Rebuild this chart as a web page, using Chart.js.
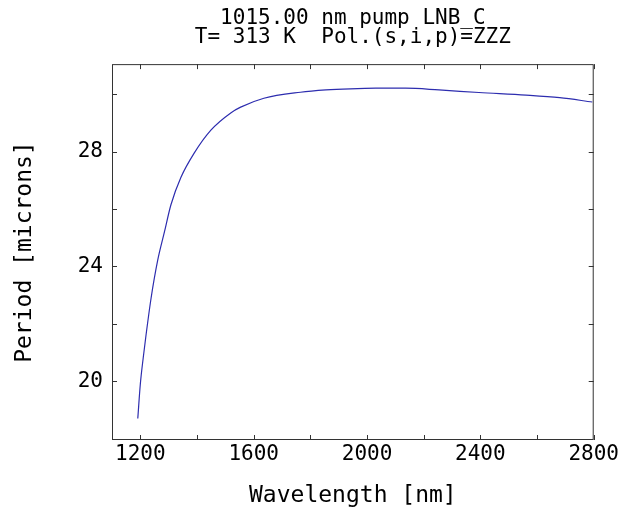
<!DOCTYPE html>
<html>
<head>
<meta charset="utf-8">
<script src="https://cdn.jsdelivr.net/npm/chart.js@4/dist/chart.umd.min.js"></script>
<style>
  html, body { margin: 0; padding: 0; background: #fff; }
  #wrap { width: 621px; height: 510px; }
</style>
</head>
<body>
<div id="wrap"><canvas id="chart"></canvas></div>
<script>
// signal wavelength (nm) and poling period (microns)
const wavelengths = [1191, 1200, 1210, 1220, 1238, 1261, 1285, 1308, 1343, 1390, 1449, 1519, 1554, 1636, 1765, 1855, 1941, 2031, 2136, 2254, 2395, 2561, 2680, 2795];
const periods = [18.7, 19.9, 20.8, 21.6, 22.9, 24.2, 25.2, 26.15, 27.1, 27.95, 28.75, 29.35, 29.55, 29.86, 30.07, 30.15, 30.19, 30.21, 30.21, 30.15, 30.06, 29.97, 29.88, 29.73];
const xLabels = [1200, 1600, 2000, 2400, 2800];
const yLabels = [20, 24, 28];

const FONT = "'DejaVu Sans Mono', 'Liberation Mono', monospace";

const points = wavelengths.map((w, i) => ({ x: w, y: periods[i] }));

// inward tick marks on all four sides of the frame
const frameTicks = {
  id: 'frameTicks',
  afterDraw(chart) {
    const { ctx, chartArea: a, scales } = chart;
    ctx.save();
    ctx.strokeStyle = '#333';
    ctx.lineWidth = 1;
    ctx.strokeRect(a.left + 0.5, a.top + 0.5, a.right - a.left - 1, a.bottom - a.top - 1);
    ctx.beginPath();
    scales.x.ticks.forEach(t => {
      const px = Math.round(scales.x.getPixelForValue(t.value)) + 0.5;
      ctx.moveTo(px, a.bottom); ctx.lineTo(px, a.bottom - 5);
      ctx.moveTo(px, a.top); ctx.lineTo(px, a.top + 5);
    });
    scales.y.ticks.forEach(t => {
      const py = Math.round(scales.y.getPixelForValue(t.value)) + 0.5;
      ctx.moveTo(a.left, py); ctx.lineTo(a.left + 5, py);
      ctx.moveTo(a.right, py); ctx.lineTo(a.right - 5, py);
    });
    ctx.stroke();
    ctx.restore();
  }
};

new Chart(document.getElementById('chart'), {
  type: 'scatter',
  data: {
    datasets: [{
      data: points,
      showLine: true,
      borderColor: 'rgb(45, 45, 175)',
      borderWidth: 1.2,
      pointRadius: 0,
      cubicInterpolationMode: 'monotone',
      fill: false,
    }],
  },
  options: {
    responsive: true,
    maintainAspectRatio: false,
    animation: false,
    layout: { padding: { left: 0, right: 27, top: 0, bottom: 0 } },
    plugins: {
      legend: { display: false },
      tooltip: { enabled: false },
      title: {
        display: true,
        fullSize: false,
        text: ['1015.00 nm pump LNB_C', 'T= 313 K  Pol.(s,i,p)=ZZZ'],
        color: '#000',
        font: { family: FONT, size: 21, weight: 'normal', lineHeight: 0.86 },
        padding: { top: 10, bottom: 18 },
      },
    },
    scales: {
      x: {
        type: 'linear',
        min: 1100,
        max: 2800,
        afterBuildTicks(scale) {
          const t = [];
          for (let v = 1200; v <= 2800; v += 200) t.push({ value: v });
          scale.ticks = t;
        },
        afterFit(scale) { scale.height = 70; },
        grid: { display: false, drawTicks: false },
        border: { display: false },
        ticks: {
          color: '#000',
          font: { family: FONT, size: 21 },
          padding: 2,
          maxRotation: 0,
          autoSkip: false,
          callback: v => xLabels.includes(v) ? String(v) : '',
        },
        title: {
          display: true,
          text: 'Wavelength [nm]',
          color: '#000',
          font: { family: FONT, size: 23 },
          padding: { top: 0, bottom: 0 },
        },
      },
      y: {
        type: 'linear',
        min: 17.95,
        max: 31.05,
        afterBuildTicks(scale) {
          const t = [];
          for (let v = 20; v <= 30; v += 2) t.push({ value: v });
          scale.ticks = t;
        },
        afterFit(scale) { scale.width = 112; },
        grid: { display: false, drawTicks: false },
        border: { display: false },
        ticks: {
          color: '#000',
          font: { family: FONT, size: 21 },
          padding: 9,
          autoSkip: false,
          callback: v => yLabels.includes(v) ? String(v) : '',
        },
        title: {
          display: true,
          text: 'Period [microns]',
          color: '#000',
          font: { family: FONT, size: 23 },
          padding: { top: 11, bottom: 0 },
        },
      },
    },
  },
  plugins: [frameTicks],
});
</script>
</body>
</html>
